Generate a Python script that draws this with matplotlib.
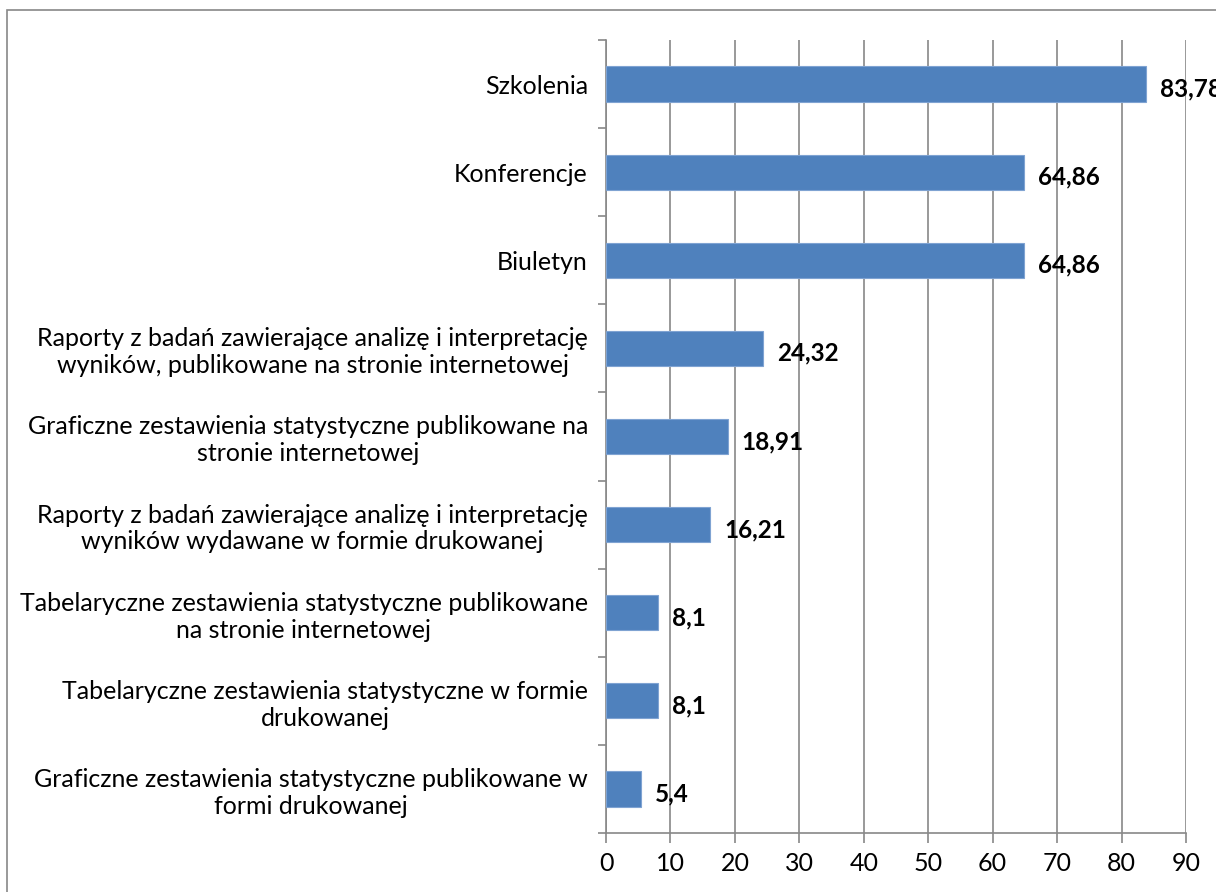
import matplotlib
matplotlib.use("Agg")
import matplotlib.pyplot as plt
from matplotlib.patches import Rectangle

categories = [
    "Szkolenia",
    "Konferencje",
    "Biuletyn",
    "Raporty z badań zawierające analizę i interpretację\nwyników, publikowane na stronie internetowej",
    "Graficzne zestawienia statystyczne publikowane na\nstronie internetowej",
    "Raporty z badań zawierające analizę i interpretację\nwyników wydawane w formie drukowanej",
    "Tabelaryczne zestawienia statystyczne publikowane\nna stronie internetowej",
    "Tabelaryczne zestawienia statystyczne w formie\ndrukowanej",
    "Graficzne zestawienia statystyczne publikowane w\nformi drukowanej",
]
values = [83.78, 64.86, 64.86, 24.32, 18.91, 16.21, 8.1, 8.1, 5.4]
value_labels = ["83,78", "64,86", "64,86", "24,32", "18,91", "16,21", "8,1", "8,1", "5,4"]
xticks = [0, 10, 20, 30, 40, 50, 60, 70, 80, 90]

plt.rcParams['font.family'] = ['Lato', 'DejaVu Sans']

fig = plt.figure(figsize=(12.16, 8.92), dpi=100)
ax = fig.add_axes([606 / 1216, 1 - 833 / 892, 580 / 1216, 793 / 892])

n = len(categories)
pos = list(range(n))
ax.barh(pos, values, height=0.4, color='#4F81BD', edgecolor='#7FA3D2', linewidth=0.8, zorder=3)
ax.set_ylim(n - 0.5, -0.5)
ax.set_xlim(0, 90)

# value labels
for p, v, lab in zip(pos, values, value_labels):
    ax.annotate(lab, xy=(v, p), xytext=(14, -5), textcoords='offset pixels',
                ha='left', va='center', fontsize=17.5, fontweight='bold',
                color='black', annotation_clip=False, zorder=4)

ax.set_xticks(xticks)
ax.set_xticklabels([str(t) for t in xticks], fontsize=18)
ax.set_yticks(pos)
ax.set_yticklabels(categories, fontsize=18)
for t in ax.get_yticklabels():
    t.set_multialignment('center')

# category boundary ticks on y axis
ax.set_yticks([i - 0.5 for i in range(n + 1)], minor=True)
ax.tick_params(axis='y', which='major', length=0, pad=13)
ax.tick_params(axis='y', which='minor', length=6, color='#888888', width=1.2)
ax.tick_params(axis='x', length=7, color='#888888', width=1.2, pad=7)

ax.grid(axis='x', color='#888888', linewidth=1.2, zorder=0)
for side in ['top', 'right']:
    ax.spines[side].set_visible(False)
for side in ['left', 'bottom']:
    ax.spines[side].set_color('#888888')
    ax.spines[side].set_linewidth(1.2)

# outer chart frame (partly cut off)
fig.patches.append(Rectangle((7 / 1216, -0.1), 1.2, 1.1 - 10 / 892, transform=fig.transFigure,
                             fill=False, edgecolor='#888888', linewidth=1.2))

fig.savefig("out.png", dpi=100)
